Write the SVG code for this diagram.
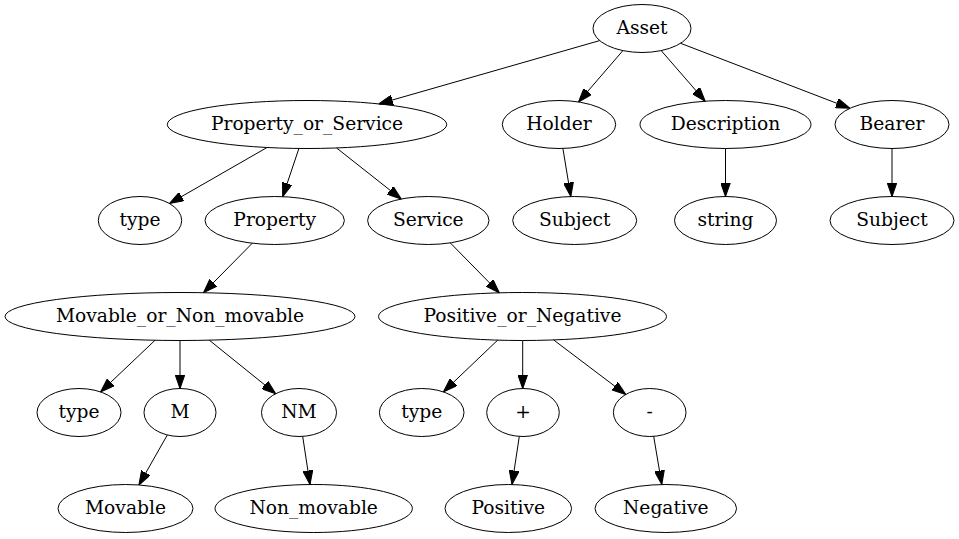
<svg xmlns="http://www.w3.org/2000/svg" width="959" height="539" viewBox="0 0 959 539">
<style>
ellipse{fill:none;stroke:#000;stroke-width:1}
text{font-family:"DejaVu Serif","Liberation Serif",serif;font-size:18.67px;text-anchor:middle;fill:#000}
.e line{stroke:#000;stroke-width:1;marker-end:url(#ah)}
</style>
<defs>
<marker id="ah" markerUnits="userSpaceOnUse" markerWidth="14" markerHeight="10" viewBox="0 0 13.33 9.33" refX="13.33" refY="4.67" orient="auto">
<path d="M0,0 L13.33,4.67 L0,9.33 z" fill="#000" stroke="#000" stroke-width="1"/>
</marker>
</defs>
<rect width="959" height="539" fill="#fff"/>
<g id="edges" class="e">
<line x1="599.7" y1="40.6" x2="378.8" y2="103.9"/>
<line x1="622.9" y1="50.6" x2="578.5" y2="102.0"/>
<line x1="661.2" y1="50.6" x2="705.2" y2="101.2"/>
<line x1="680.6" y1="43.3" x2="849.9" y2="108.3"/>
<line x1="267.0" y1="147.5" x2="169.5" y2="203.5"/>
<line x1="298.9" y1="148.5" x2="282.7" y2="196.7"/>
<line x1="336.6" y1="148.0" x2="401.2" y2="199.0"/>
<line x1="562.9" y1="148.4" x2="570.8" y2="196.5"/>
<line x1="725.5" y1="148.5" x2="725.5" y2="196.5"/>
<line x1="892" y1="148.5" x2="892" y2="196.5"/>
<line x1="252.3" y1="243.2" x2="203.5" y2="292.7"/>
<line x1="450.3" y1="242.9" x2="499.3" y2="292.8"/>
<line x1="155.0" y1="340.3" x2="100.6" y2="391.9"/>
<line x1="180" y1="340.5" x2="180" y2="388.5"/>
<line x1="209.3" y1="340.2" x2="275.7" y2="393.7"/>
<line x1="497.7" y1="340.1" x2="443.4" y2="391.9"/>
<line x1="522.7" y1="340.5" x2="522.7" y2="388.5"/>
<line x1="553.6" y1="339.9" x2="625.8" y2="394.5"/>
<line x1="167.3" y1="435.0" x2="138.9" y2="485.0"/>
<line x1="302.7" y1="436.4" x2="310.0" y2="484.5"/>
<line x1="519.3" y1="436.4" x2="512.0" y2="484.5"/>
<line x1="653.7" y1="436.4" x2="661.8" y2="484.5"/>
</g>
<g id="asset"><ellipse cx="642" cy="28.5" rx="49" ry="24"/><text x="642" y="34">Asset</text></g>
<g id="property_or_service"><ellipse cx="307" cy="124.5" rx="139.7" ry="24"/><text x="307" y="130">Property_or_Service</text></g>
<g id="holder"><ellipse cx="559" cy="124.5" rx="56.7" ry="24"/><text x="559" y="130">Holder</text></g>
<g id="description"><ellipse cx="725.5" cy="124.5" rx="85.5" ry="24"/><text x="725.5" y="130">Description</text></g>
<g id="bearer"><ellipse cx="892" cy="124.5" rx="57" ry="24"/><text x="892" y="130">Bearer</text></g>
<g id="type1"><ellipse cx="140" cy="220.5" rx="41.7" ry="24"/><text x="140" y="226">type</text></g>
<g id="property"><ellipse cx="274.7" cy="220.5" rx="69.7" ry="24"/><text x="274.7" y="226">Property</text></g>
<g id="service"><ellipse cx="428.3" cy="220.5" rx="60.7" ry="24"/><text x="428.3" y="226">Service</text></g>
<g id="subject1"><ellipse cx="574.7" cy="220.5" rx="62" ry="24"/><text x="574.7" y="226">Subject</text></g>
<g id="string"><ellipse cx="725.5" cy="220.5" rx="51" ry="24"/><text x="725.5" y="226">string</text></g>
<g id="subject2"><ellipse cx="892" cy="220.5" rx="62" ry="24"/><text x="892" y="226">Subject</text></g>
<g id="movable_or_non_movable"><ellipse cx="180" cy="316.5" rx="175" ry="24"/><text x="180" y="322">Movable_or_Non_movable</text></g>
<g id="positive_or_negative"><ellipse cx="522.5" cy="316.5" rx="144" ry="24"/><text x="522.5" y="322">Positive_or_Negative</text></g>
<g id="type2"><ellipse cx="79" cy="412.5" rx="42" ry="24"/><text x="79" y="418">type</text></g>
<g id="m"><ellipse cx="180" cy="412.5" rx="36" ry="24"/><text x="180" y="418">M</text></g>
<g id="nm"><ellipse cx="299" cy="412.5" rx="37.5" ry="24"/><text x="299" y="418">NM</text></g>
<g id="type3"><ellipse cx="421.7" cy="412.5" rx="42.3" ry="24"/><text x="421.7" y="418">type</text></g>
<g id="plus"><ellipse cx="523" cy="412.5" rx="36.3" ry="24"/><text x="523" y="418">+</text></g>
<g id="minus"><ellipse cx="649.7" cy="412.5" rx="36.3" ry="24"/><text x="649.7" y="418">-</text></g>
<g id="movable"><ellipse cx="125.5" cy="508.5" rx="67.5" ry="24"/><text x="125.5" y="514">Movable</text></g>
<g id="non_movable"><ellipse cx="313.7" cy="508.5" rx="98.7" ry="24"/><text x="313.7" y="514">Non_movable</text></g>
<g id="positive"><ellipse cx="508.3" cy="508.5" rx="63.3" ry="24"/><text x="508.3" y="514">Positive</text></g>
<g id="negative"><ellipse cx="665.8" cy="508.5" rx="70.8" ry="24"/><text x="665.8" y="514">Negative</text></g>
</svg>
